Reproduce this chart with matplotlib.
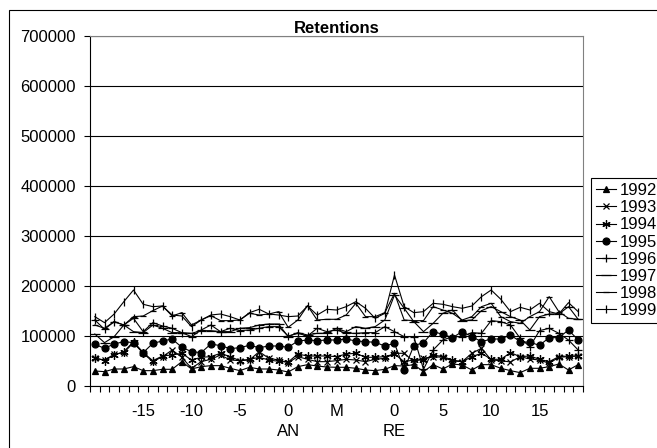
import matplotlib
matplotlib.use('Agg')
import matplotlib.pyplot as plt
from matplotlib.patches import Rectangle
import numpy as np

plt.rcParams['font.family'] = ['Liberation Sans', 'DejaVu Sans']
plt.rcParams['font.size'] = 12

# jours autour de l'annonce (AN) et de la date RE, M = milieu
categories = ([''] * 5 + ['-15'] + [''] * 4 + ['-10'] + [''] * 4 + ['-5'] + [''] * 4
              + ['0\nAN'] + [''] * 4 + ['M'] + [''] * 5 + ['0\nRE'] + [''] * 4
              + ['5'] + [''] * 4 + ['10'] + [''] * 4 + ['15'] + [''] * 4)

y1992 = [30000, 28700, 34000, 34000, 38700, 30700, 30700, 33400, 33400, 48700,
         34000, 38700, 40700, 40700, 35400, 30700, 37400, 34000, 34000, 32000,
         28000, 38700, 42700, 40000, 38000,
         37400, 37400, 35400, 32000, 30700, 33400, 40700, 40000, 42700, 28700,
         42700, 34000, 44000, 42000, 32000, 42700, 42700, 35400, 30700, 26700,
         35400, 35400, 38700, 44000, 32000, 42700]
y1993 = [55400, 52000, 63400, 66700, 86700, 65400, 48700, 58700, 72000, 57400,
         35400, 48700, 53400, 62000, 52000, 50700, 52000, 68700, 55400, 52000,
         46700, 58700, 53400, 48700, 48700,
         50700, 53400, 52000, 48700, 53400, 55400, 65400, 65400, 48700, 55400,
         58700, 57400, 50000, 48700, 65400, 75400, 52000, 50700, 48000, 58700,
         54000, 52000, 45400, 57400, 58700, 60000]
y1994 = [56700, 50700, 62000, 68700, 88700, 66700, 50700, 60000, 62000, 65400,
         52000, 57400, 58700, 65400, 58700, 50700, 53400, 57400, 52000, 49400,
         48000, 64000, 60000, 60000, 60000,
         58700, 64000, 65400, 57400, 57400, 58700, 64000, 48700, 52000, 52000,
         62000, 58700, 52000, 48700, 58700, 65400, 53400, 53400, 66700, 58700,
         60000, 53400, 48700, 58700, 60000, 60000]
y1995 = [83400, 75400, 84000, 88700, 86700, 66700, 85400, 90000, 94000, 77400,
         68700, 66700, 84000, 80700, 74700, 76700, 81400, 76700, 80000, 80000,
         77400, 90000, 92000, 90700, 92000,
         92000, 94000, 90000, 88700, 87400, 80000, 85400, 33000, 80700, 86700,
         108700, 103400, 96700, 108700, 98700, 88700, 94000, 94000, 102000, 88700,
         87400, 81400, 96700, 96700, 112000, 92000]
y1996 = [132000, 113400, 128700, 122000, 135400, 108700, 126700, 120000, 115400, 106700,
         98700, 112000, 122000, 108700, 115400, 110700, 112000, 115400, 118700, 118700,
         100000, 105400, 100000, 115400, 108700,
         112000, 105400, 105400, 106700, 106700, 118700, 108700, 98700, 98700, 33400,
         72000, 92000, 98700, 98700, 106700, 105400, 130700, 128700, 122000, 95400,
         78700, 110700, 115400, 105400, 92000, 72000]
y1997 = [104000, 86700, 98700, 122000, 108700, 106700, 122000, 115400, 106700, 106700,
         105400, 110700, 110700, 108700, 108700, 115400, 116700, 122000, 124000, 124000,
         98700, 106700, 102000, 105400, 105400,
         115400, 108700, 118700, 115400, 118700, 132000, 182000, 155400, 128700, 108700,
         125400, 145400, 152000, 130700, 132000, 150700, 158700, 148700, 138700, 132000,
         112000, 138700, 144000, 144000, 158700, 133400]
y1998 = [122000, 115400, 128700, 122000, 138700, 140000, 150700, 160000, 140000, 146700,
         122000, 132000, 140700, 130700, 130700, 132000, 145400, 142000, 144000, 148700,
         117400, 132000, 160700, 132000, 133400,
         133400, 142000, 165400, 138700, 138700, 146700, 185400, 132000, 130700, 130700,
         158700, 152000, 145400, 132000, 138700, 158700, 165400, 138700, 128700, 125400,
         138700, 148700, 178700, 148700, 135400, 133400]
y1999 = [138700, 126700, 144000, 168700, 192000, 163400, 158700, 160000, 142000, 140000,
         118700, 132000, 142000, 144000, 138700, 132000, 146700, 153400, 144000, 142000,
         138700, 140000, 160000, 142000, 153400,
         152000, 158700, 168700, 155400, 135400, 145400, 222000, 158700, 146700, 148700,
         165400, 163400, 158700, 155400, 160000, 178700, 192000, 173400, 148700, 157400,
         152000, 165400, 148700, 144000, 166700, 148700]

series = [
    ('1992', y1992, '^', 4.5),
    ('1993', y1993, 'x', 4.5),
    ('1994', y1994, (6, 2, 0), 6),
    ('1995', y1995, 'o', 5),
    ('1996', y1996, '+', 6),
    ('1997', y1997, '_', 7),
    ('1998', y1998, '_', 5),
    ('1999', y1999, '|', 6),
]

fig = plt.figure(figsize=(6.57, 4.48), dpi=100)
ax = fig.add_axes([90 / 657, 62 / 448, 493 / 657, 350 / 448])

x = np.arange(len(categories))
for name, vals, mk, ms in series:
    ax.plot(x, vals, color='black', lw=0.8, marker=mk, markersize=ms,
            markeredgewidth=0.9, markerfacecolor='black', markeredgecolor='black',
            label=name)

ax.set_xlim(-0.5, len(categories) - 0.5)
ax.set_ylim(0, 700000)
ax.set_yticks(np.arange(0, 700001, 100000))
ax.set_yticklabels([str(v) for v in range(0, 700001, 100000)])
ax.yaxis.grid(True, color='black', lw=0.8)
ax.set_axisbelow(True)

ax.set_xticks(x)
ax.set_xticklabels(categories, linespacing=1.4, va='top')
ax.set_xticks(np.arange(-0.5, len(categories), 1), minor=True)
ax.tick_params(axis='x', which='major', length=0, pad=13)
ax.tick_params(axis='x', which='minor', length=4, width=0.8, direction='out')
ax.tick_params(axis='y', length=4, width=0.8, direction='out', pad=6)

for side in ['top', 'right']:
    ax.spines[side].set_color('#808080')
    ax.spines[side].set_linewidth(0.8)
for side in ['left', 'bottom']:
    ax.spines[side].set_color('black')
    ax.spines[side].set_linewidth(0.8)

ax.set_title('Retentions', fontweight='bold', fontsize=12, pad=1)

leg = fig.legend(loc='upper left', bbox_to_anchor=(591 / 657, 1 - 178 / 448),
                 frameon=True, fancybox=False, framealpha=1, edgecolor='black',
                 handlelength=1.2, handletextpad=0.2, labelspacing=0.13,
                 borderpad=0.3, borderaxespad=0)
leg.get_frame().set_linewidth(0.8)

# cadre extérieur du graphique
fig.add_artist(Rectangle((9 / 657, -0.1), 2, 1.1 - 10 / 448, transform=fig.transFigure,
                         fill=False, edgecolor='black', lw=0.8, clip_on=False))

fig.savefig('out.png', dpi=100)
